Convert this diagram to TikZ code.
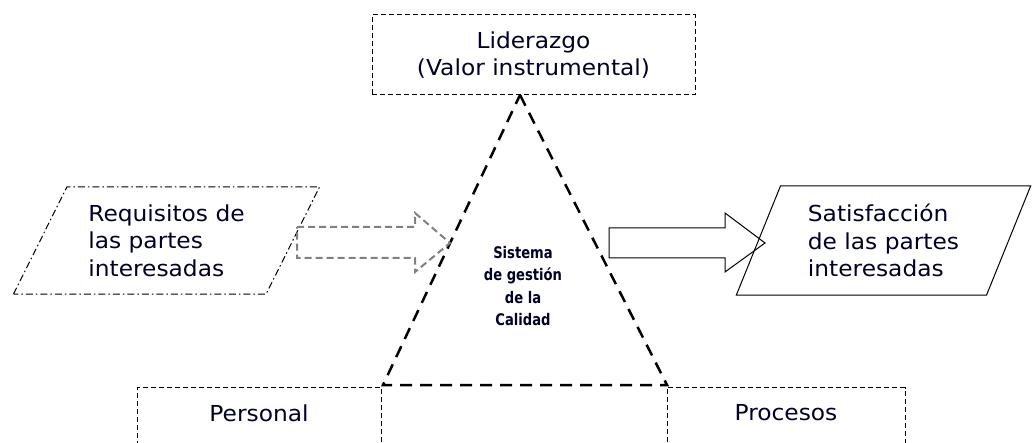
\documentclass[tikz,border=0pt]{standalone}
\usepackage{fontspec}
\setmainfont{DejaVu Sans}[FakeStretch=1.06]
\newfontfamily\centrofont{DejaVu Sans}[FakeStretch=0.82]
\usetikzlibrary{shapes.geometric}
\usetikzlibrary{arrows.meta, positioning}

\begin{document}
\begin{tikzpicture}[x=1pt,y=-1pt,
    every node/.style={font=\fontsize{22}{27.5}\selectfont, text=black!85!blue},
    dbox/.style={draw, dash pattern=on 5pt off 3pt, line width=1pt},
    entrada/.style={trapezium, draw, dash pattern=on 7pt off 3pt on 1.5pt off 3pt,
        line width=1pt, trapezium left angle=61, trapezium right angle=119,
        trapezium stretches=true, align=left},
    salida/.style={trapezium, draw, line width=1pt, trapezium left angle=67,
        trapezium right angle=113, trapezium stretches=true, align=left}]

    \useasboundingbox (0,0) rectangle (1032,443);

    \node (lider) [dbox, minimum width=323, minimum height=80, align=center]
        at (533.5,55) {Liderazgo\\(Valor instrumental)};
    \node (pers) [dbox, anchor=north, minimum width=244, inner ysep=17pt, text depth=40pt]
        at (259,387) {Personal};
    \node (proc) [dbox, anchor=north, minimum width=238, inner ysep=17pt, text depth=40pt]
        at (786,387) {Procesos};

    \node (req) [entrada, minimum width=307, minimum height=107] at (166.5,240.5)
        {Requisitos de\\las partes\\interesadas};
    \node (sat) [salida, minimum width=295, minimum height=109] at (883.5,240.5)
        {Satisfacción\\de las partes\\interesadas};

    % triangulo
    \coordinate (apex) at (520,95);
    \coordinate (bl) at (383,385);
    \coordinate (br) at (667,385);
    \draw[line width=2.5pt, dash pattern=on 12pt off 8pt] (apex) -- (br) -- (bl) -- cycle;
    \node (sgc) [font=\centrofont\bfseries\fontsize{16}{22.5}\selectfont, align=center]
        at (523,286) {Sistema\\de gestión\\de la\\Calidad};

    % flechas
    \draw[gray, line width=2pt, dash pattern=on 7pt off 4pt]
        (297,227) -- (415,227) -- (415,213) -- (450,243) -- (415,272) -- (415,258)
        -- (297,258) -- cycle;
    \draw[line width=1pt]
        (609,228) -- (725,228) -- (725,213) -- (765,243) -- (725,272) -- (725,258)
        -- (609,258) -- cycle;

\end{tikzpicture}
\end{document}
